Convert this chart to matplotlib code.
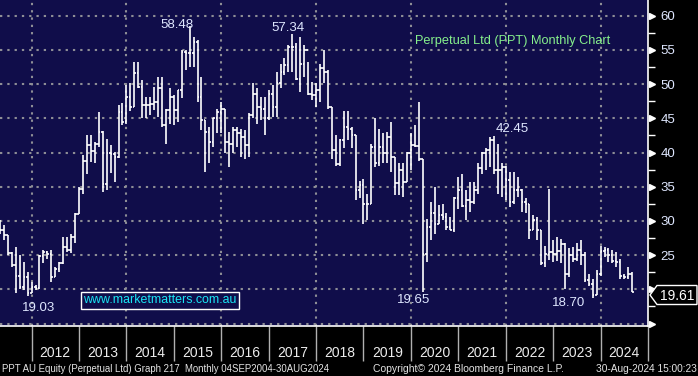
import matplotlib
matplotlib.use("Agg")
import matplotlib.pyplot as plt
import matplotlib.transforms as mtransforms
from matplotlib.patches import Polygon
import pandas as pd

# monthly OHLC, Apr 2011 .. Aug 2024
months = pd.period_range("2011-04", "2024-08", freq="M")

highs = [
    30.2, 29.4, 28.0, 25.4, 26.2, 25.0, 24.0, 22.5, 21.1, 20.6,
    25.0, 25.7, 25.6, 25.8, 23.3, 24.0, 27.7, 27.7, 28.1, 31.2,
    35.0, 39.6, 42.6, 42.5, 41.6, 45.9, 43.2, 42.0, 41.1, 40.1,
    46.9, 47.2, 49.9, 50.1, 53.3, 53.3, 50.6, 48.1, 48.1, 49.6,
    51.1, 51.1, 46.4, 49.5, 48.4, 49.2, 55.0, 55.0, 58.48, 56.9,
    56.4, 51.1, 44.7, 43.8, 45.0, 46.4, 47.4, 46.4, 43.0, 43.8,
    43.8, 43.5, 43.3, 45.8, 50.1, 49.4, 48.1, 48.1, 49.1, 49.9,
    51.8, 53.0, 53.8, 55.7, 57.34, 56.0, 56.9, 55.7, 53.3, 50.3,
    50.1, 53.0, 55.0, 52.0, 46.6, 42.6, 42.0, 46.0, 46.0, 43.8,
    42.5, 35.9, 36.2, 34.0, 41.3, 45.0, 43.5, 42.8, 43.0, 44.5,
    39.4, 38.4, 38.4, 40.1, 42.8, 44.0, 47.4, 39.0, 30.3, 32.8,
    35.0, 32.3, 32.5, 31.1, 30.6, 33.5, 36.4, 36.9, 34.5, 35.7,
    35.7, 38.4, 40.1, 40.6, 42.3, 42.45, 41.3, 38.4, 38.0, 37.2,
    37.2, 36.4, 34.6, 33.3, 32.5, 30.8, 30.6, 28.6, 26.4, 34.7,
    27.2, 27.7, 27.4, 26.8, 26.0, 26.2, 26.7, 27.2, 25.5, 22.3,
    21.5, 22.8, 26.4, 26.2, 26.0, 25.8, 25.5, 24.5, 22.3, 23.3,
    22.5]

lows = [
    28.1, 27.2, 25.0, 23.3, 19.4, 20.1, 19.9, 19.03, 19.4, 19.9,
    20.0, 23.8, 24.5, 21.1, 21.8, 22.5, 23.7, 25.5, 25.3, 26.7,
    31.0, 34.0, 36.9, 38.6, 38.4, 40.8, 34.2, 34.5, 37.0, 35.7,
    39.2, 44.0, 44.2, 46.0, 46.7, 49.4, 45.0, 45.0, 45.5, 46.2,
    45.2, 43.8, 41.3, 44.2, 44.0, 44.5, 47.9, 52.0, 52.5, 52.5,
    47.4, 43.3, 37.2, 38.4, 40.8, 42.8, 42.8, 39.9, 37.9, 39.9,
    40.8, 39.4, 39.1, 39.4, 45.0, 44.2, 44.7, 42.5, 44.8, 45.2,
    45.2, 49.4, 51.3, 51.8, 51.8, 50.6, 48.9, 51.1, 48.4, 47.7,
    46.7, 47.4, 50.1, 46.4, 39.1, 38.1, 38.1, 40.6, 41.8, 40.6,
    33.0, 33.3, 29.6, 30.1, 32.5, 37.9, 38.1, 38.4, 38.4, 37.2,
    33.8, 33.8, 33.5, 35.7, 37.4, 40.8, 38.8, 19.65, 24.0, 27.2,
    28.1, 29.5, 30.1, 28.6, 28.6, 28.4, 31.8, 32.0, 30.1, 31.3,
    32.5, 34.0, 36.9, 37.4, 37.9, 36.9, 34.0, 33.5, 33.0, 32.0,
    32.5, 33.5, 31.3, 31.1, 27.4, 28.6, 27.2, 23.5, 23.3, 24.3,
    24.0, 24.2, 23.8, 20.1, 21.8, 24.0, 24.2, 23.5, 21.0, 20.5,
    18.70, 19.1, 22.0, 24.7, 24.0, 23.8, 23.2, 21.5, 21.5, 21.5,
    19.61]

opens = [
    29.6, 28.6, 28.0, 25.3, 23.5, 22.0, 20.3, 21.8, 19.5, 20.4,
    20.2, 24.8, 25.4, 25.2, 21.8, 22.9, 23.8, 26.2, 25.8, 27.6,
    31.0, 34.7, 38.8, 41.1, 40.2, 41.3, 43.0, 35.4, 39.9, 39.8,
    39.3, 45.9, 44.5, 48.1, 46.7, 51.7, 49.6, 46.9, 46.9, 47.1,
    47.4, 49.5, 44.0, 46.2, 48.1, 46.2, 49.1, 54.7, 54.5, 54.5,
    56.2, 48.1, 44.7, 43.0, 41.6, 45.0, 45.9, 46.4, 41.6, 41.3,
    43.3, 42.8, 42.3, 41.1, 45.5, 48.6, 46.7, 46.4, 45.0, 48.6,
    46.7, 50.1, 51.8, 52.8, 55.5, 55.5, 50.8, 53.0, 55.0, 48.6,
    48.4, 49.1, 52.3, 51.8, 46.6, 40.3, 38.3, 41.8, 43.8, 43.5,
    42.5, 34.5, 35.2, 32.5, 32.5, 40.8, 38.4, 40.8, 39.9, 42.3,
    39.4, 35.5, 37.4, 35.7, 39.9, 41.1, 41.0, 39.0, 25.2, 29.1,
    31.1, 29.5, 30.8, 30.6, 29.1, 28.7, 33.3, 34.5, 32.2, 33.0,
    32.8, 34.5, 37.7, 39.9, 40.3, 41.8, 37.4, 37.4, 37.9, 36.0,
    32.8, 34.5, 34.5, 32.8, 32.5, 28.6, 30.1, 28.6, 23.8, 25.2,
    25.4, 25.2, 25.6, 26.6, 22.2, 25.0, 24.5, 25.8, 25.0, 21.3,
    20.8, 19.2, 22.3, 25.6, 25.8, 25.0, 24.2, 24.0, 21.9, 21.8,
    22.2]

closes = [
    28.6, 28.0, 25.3, 23.5, 22.0, 20.3, 21.8, 19.5, 20.4, 20.2,
    24.8, 25.4, 25.2, 21.8, 22.9, 23.8, 26.2, 25.8, 27.6, 31.0,
    34.7, 38.8, 41.1, 40.2, 41.3, 43.0, 35.4, 39.9, 39.8, 39.3,
    45.9, 44.5, 48.1, 46.7, 51.7, 49.6, 46.9, 46.9, 47.1, 47.4,
    49.5, 44.0, 46.2, 48.1, 46.2, 49.1, 54.7, 54.5, 54.5, 56.2,
    48.1, 44.7, 43.0, 41.6, 45.0, 45.9, 46.4, 41.6, 41.3, 43.3,
    42.8, 42.3, 41.1, 45.5, 48.6, 46.7, 46.4, 45.0, 48.6, 46.7,
    50.1, 51.8, 52.8, 55.5, 55.5, 50.8, 53.0, 55.0, 48.6, 48.4,
    49.1, 52.3, 51.8, 46.6, 40.3, 38.3, 41.8, 43.8, 43.5, 42.5,
    34.5, 35.2, 32.5, 32.5, 40.8, 38.4, 40.8, 39.9, 42.3, 39.4,
    35.5, 37.4, 35.7, 39.9, 41.1, 41.0, 39.0, 25.2, 29.1, 31.1,
    29.5, 30.8, 30.6, 29.1, 28.7, 33.3, 34.5, 32.2, 33.0, 32.8,
    34.5, 37.7, 39.9, 40.3, 41.8, 37.4, 37.4, 37.9, 36.0, 32.8,
    34.5, 34.5, 32.8, 32.5, 28.6, 30.1, 28.6, 23.8, 25.2, 25.4,
    25.2, 25.6, 26.6, 22.2, 25.0, 24.5, 25.8, 25.0, 21.3, 20.8,
    19.2, 22.3, 25.6, 25.8, 25.0, 24.2, 24.0, 21.9, 21.8, 22.2,
    19.61]

years = list(range(2012, 2025))
price_ticks = [15, 20, 25, 30, 35, 40, 45, 50, 55, 60]
# 15 and 20 are hidden in the original (flag covers 20, 15 sits on the edge)
price_labels = ["", "", "25", "30", "35", "40", "45", "50", "55", "60"]
minor_ticks = [17.5, 22.5, 27.5, 32.5, 37.5, 42.5, 47.5, 52.5, 57.5]
last_price = "19.61"

# labelled extremes: (label, month, value, pixel offset of the label)
extremes = [
    ("58.48", "2015-04", 58.48, (-13, 1)),
    ("57.34", "2017-06", 57.34, (-4, 6)),
    ("42.45", "2021-09", 42.45, (18, 7)),
    ("19.65", "2020-03", 19.65, (-9, -8)),
    ("19.03", "2011-11", 19.03, (11, -12)),
    ("18.70", "2023-10", 18.70, (-24, -5)),
]

BG = "#100d4a"
GRID = "#8e8e96"
LABEL = "#dfe7ff"
plt.rcParams["font.family"] = ["Liberation Sans", "DejaVu Sans"]


def month_pos(p):
    return p.year + p.month / 12.0


x = [month_pos(p) for p in months]

W, H = 698, 376
fig = plt.figure(figsize=(W / 100, H / 100), dpi=100)
fig.patch.set_facecolor("black")
ax = fig.add_axes([0, (H - 325.5) / H, 648 / W, 325.5 / H])
ax.set_facecolor(BG)
ax.set_xlim(2011.334, 2025.0)
ax.set_ylim(14.71, 62.30)

# dotted grid
dots = (0, (1.1, 2.4))
for v in price_ticks:
    ax.axhline(v, color=GRID, lw=1.5, ls=dots, zorder=1)
for yr in years[::2]:
    ax.axvline(yr, color=GRID, lw=1.5, ls=dots, zorder=1)

# OHLC bars
tick = 0.036
ax.vlines(x, lows, highs, color="white", lw=1.2, zorder=3)
ax.hlines(opens, [v - tick for v in x], x, color="white", lw=1.2, zorder=3)
ax.hlines(closes, x, [v + tick for v in x], color="white", lw=1.2, zorder=3)

for lab, m, val, (dx, dy) in extremes:
    ax.annotate(lab, xy=(month_pos(pd.Period(m, "M")), val), xytext=(dx, dy),
                textcoords="offset pixels", ha="center", va="center",
                color=LABEL, fontsize=9.5, zorder=5)

ax.text(0.64, 0.875, "Perpetual Ltd (PPT) Monthly Chart", transform=ax.transAxes,
        color="#86f08c", fontsize=9.2, ha="left", va="center")

ax.text(0.1285, 0.078, "www.marketmatters.com.au", transform=ax.transAxes,
        color="#19e6f5", fontsize=8.9, ha="left", va="center", zorder=6,
        bbox=dict(boxstyle="square,pad=0.2", fc=BG, ec="white", lw=1.0))

# spines
for s in ["top", "left"]:
    ax.spines[s].set_visible(False)
for s in ["bottom", "right"]:
    ax.spines[s].set_color("white")
    ax.spines[s].set_linewidth(1.2)

# right price axis
ax.yaxis.tick_right()
ax.set_yticks(price_ticks)
ax.set_yticklabels(price_labels)
ax.set_yticks(minor_ticks, minor=True)
ax.tick_params(axis="y", which="major", length=0, pad=9, labelcolor=LABEL,
               labelsize=9.5)
ax.tick_params(axis="y", which="minor", length=5, width=1, color="white")
tri = mtransforms.blended_transform_factory(ax.transAxes, ax.transData) + \
    mtransforms.ScaledTranslation(0.035, 0, fig.dpi_scale_trans)
ax.plot([1] * len(price_ticks), price_ticks, ls="none", marker=">", ms=5,
        color="white", mec="white", transform=tri, clip_on=False, zorder=6)

# year axis: separators at boundaries, labels mid-year
ax.set_xticks(years + [2025])
ax.set_xticklabels([])
ax.set_xticks([yr + 0.5 for yr in years], minor=True)
ax.set_xticklabels([str(yr) for yr in years], minor=True)
ax.tick_params(axis="x", which="major", length=25, width=1, color="#b0b0b0",
               direction="out")
ax.tick_params(axis="x", which="minor", length=0, pad=15, labelcolor="#ececec",
               labelsize=10)


# last price flag
def fx(px):
    return px / W


def fy(py):
    return 1 - py / H


flag = Polygon([(fx(650), fy(295)), (fx(657), fy(285.5)), (fx(697), fy(285.5)),
                (fx(697), fy(304.5)), (fx(657), fy(304.5))], closed=True,
               transform=fig.transFigure, fc="black", ec="white", lw=1.0,
               zorder=10)
fig.patches.append(flag)
fig.text(fx(677), fy(295.5), last_price, color="white", fontsize=10,
         ha="center", va="center", zorder=11)

# footer
foot = dict(color="#e4e4e4", va="center")
fig.text(fx(2), fy(369), "PPT AU Equity (Perpetual Ltd) Graph 217  Monthly 04SEP2004-30AUG2024",
         ha="left", fontsize=6.9, **foot)
fig.text(fx(373), fy(369), "Copyright\u00a9 2024 Bloomberg Finance L.P.", ha="left",
         fontsize=7.5, **foot)
fig.text(fx(697), fy(369), "30-Aug-2024 15:00:23", ha="right", fontsize=7.3, **foot)

fig.savefig("out.png", dpi=100, facecolor=fig.get_facecolor())
